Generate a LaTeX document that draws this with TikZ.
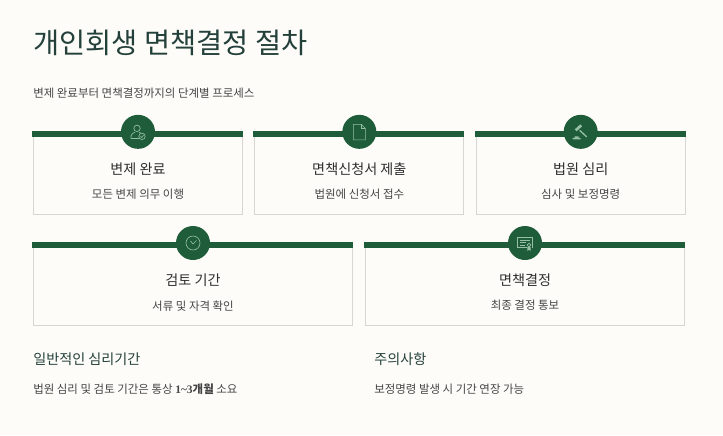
\documentclass[tikz,border=0pt]{standalone}
\usepackage{fontspec}
\usepackage{xcolor}
\setmainfont{Noto Sans CJK KR}
\newfontfamily\latinbold{Liberation Serif}[BoldFont={Liberation Serif Bold}]
\usetikzlibrary{positioning,calc}
\definecolor{paper}{HTML}{FDFCF9}
\definecolor{forest}{HTML}{1E5C3A}
\definecolor{ink}{HTML}{2F2F2F}
\definecolor{soft}{HTML}{454545}
\definecolor{slate}{HTML}{24403A}
\definecolor{line}{HTML}{D8D6D1}
\definecolor{glyph}{HTML}{97BEA6}
\tikzset{
  cardbox/.style={draw=line,fill=none,line width=0.7pt,inner sep=0pt,minimum height=61.5pt},
  narrow/.style={cardbox,minimum width=156.9pt},
  wide/.style={cardbox,minimum width=239.4pt,minimum height=62pt},
  bar/.style={fill=forest,inner sep=0pt,minimum height=4.5pt},
  badge/.style={circle,fill=forest,minimum size=25.5pt,inner sep=0pt},
  heading/.style={font=\fontsize{10.6pt}{12pt}\selectfont,text=ink,inner sep=0pt},
  sublabel/.style={font=\fontsize{8.6pt}{10pt}\selectfont,text=soft,inner sep=0pt},
  notehead/.style={font=\fontsize{10.6pt}{12pt}\selectfont,text=slate,inner sep=0pt,anchor=west},
  glyphline/.style={draw=glyph,line width=0.5pt,fill=none},
}
\begin{document}
\begin{tikzpicture}[x=0.75pt,y=-0.75pt]
    \useasboundingbox[fill=paper] (0,0) rectangle (723,435);
    \node[inner sep=0pt,anchor=west,text=slate,font=\fontsize{21.3pt}{26pt}\selectfont] (title) at (33,42.5) {개인회생 면책결정 절차};
    \node[sublabel,anchor=west] (subtitle) at (33,93) {변제 완료부터 면책결정까지의 단계별 프로세스};
    % first row
    \node[narrow] (paid) at (138,173) {};
    \node[narrow,right=8.4pt of paid] (filing) {};
    \node[narrow,right=8.4pt of filing] (court) {};
    % second row
    \node[wide] (review) at (193,284.5) {};
    \node[wide,right=8.9pt of review] (final) {};
    \foreach \c/\w in {paid/158.2pt,filing/158.2pt,court/158.2pt,review/241.4pt,final/241.4pt}{
      \node[bar,minimum width=\w,anchor=north] (\c bar) at ($(\c.north)+(-0.5,-1)$) {};
      \node[badge] (\c badge) at ($(\c.north)+(0,0.3)$) {};
    }
    \node[heading] (paidhead) at ($(paid.north)+(0,38)$) {변제 완료};
    \node[sublabel] (paidsub) at ($(paid.north)+(0,63)$) {모든 변제 의무 이행};
    \node[heading] (filinghead) at ($(filing.north)+(0,38)$) {면책신청서 제출};
    \node[sublabel] (filingsub) at ($(filing.north)+(0,63)$) {법원에 신청서 접수};
    \node[heading] (courthead) at ($(court.north)+(0,38)$) {법원 심리};
    \node[sublabel] (courtsub) at ($(court.north)+(0,63)$) {심사 및 보정명령};
    \node[heading] (reviewhead) at ($(review.north)+(0,37.5)$) {검토 기간};
    \node[sublabel] (reviewsub) at ($(review.north)+(0,63)$) {서류 및 자격 확인};
    \node[heading] (finalhead) at ($(final.north)+(0,37.5)$) {면책결정};
    \node[sublabel] (finalsub) at ($(final.north)+(0,63)$) {최종 결정 통보};
    % notes
    \node[notehead] (notea) at (33,359) {일반적인 심리기간};
    \node[sublabel,anchor=west] (noteatext) at (33,389.5) {법원 심리 및 검토 기간은 통상 {\latinbold\bfseries 1\textasciitilde3}\textbf{개월} 소요};
    \node[notehead] (noteb) at (374,359) {주의사항};
    \node[sublabel,anchor=west] (notebtext) at (374,389.5) {보정명령 발생 시 기간 연장 가능};
    % person icon
    \begin{scope}[shift={(paidbadge.center)}]
      \draw[glyphline] (-1,-3.5) circle (3.2);
      \draw[glyphline] (-7,6.5) -- (-7,4) .. controls (-7,2) and (-4.5,1.5) .. (-3,0.3) (1,0.3) .. controls (1.5,0.8) and (2.5,1) .. (3,1.3);
      \draw[glyphline] (-7,6.5) -- (0.5,6.5);
      \draw[glyphline] (4,4.5) circle (3.2);
      \draw[glyphline] (2.5,4.5) -- (3.7,5.7) -- (5.6,3.3);
    \end{scope}
    % document icon
    \begin{scope}[shift={(filingbadge.center)}]
      \draw[glyphline] (-6,-7.5) -- (2,-7.5) -- (6,-3.5) -- (6,8) -- (-6,8) -- cycle;
      \draw[glyphline] (2,-7.5) -- (2,-3.5) -- (6,-3.5);
    \end{scope}
    % gavel icon
    \begin{scope}[shift={(courtbadge.center)}]
      \draw[glyphline,line width=1pt] (-1,-1.5) -- (6,5);
      \draw[glyphline,line width=2pt] (-5,-1.5) -- (0.5,-6.5);
      \fill[glyph] (-8,7.5) rectangle (0,6) (-6,6) rectangle (-2,4.5);
    \end{scope}
    % clock icon
    \begin{scope}[shift={(reviewbadge.center)}]
      \draw[glyphline] (0,0) circle (7);
      \draw[glyphline] (-2.5,-2) -- (0,1) -- (3.5,-2.5);
    \end{scope}
    % certificate icon
    \begin{scope}[shift={(finalbadge.center)}]
      \draw[glyphline] (2,4.5) -- (-7.5,4.5) -- (-7.5,-5.5) -- (7,-5.5) -- (7,4.5);
      \draw[glyphline] (-5,-3) -- (4.5,-3) (-5,-0.5) -- (1,-0.5) (-5,2) -- (0,2);
      \draw[glyphline] (4,2) circle (1.9);
      \fill[glyph] (2.3,4) -- (2.3,8) -- (4,6.8) -- (5.7,8) -- (5.7,4) -- cycle;
    \end{scope}
  \end{tikzpicture}
\end{document}
